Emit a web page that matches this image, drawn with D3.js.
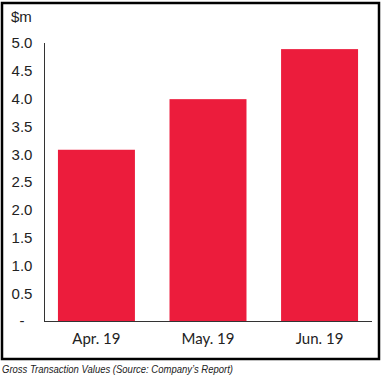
<!DOCTYPE html>
<html>
<head>
<meta charset="utf-8">
<script src="https://cdn.jsdelivr.net/npm/d3@7"></script>
<style>
  body { margin: 0; background: #fff; }
</style>
</head>
<body>
<script>
// Data
const months = ["Apr. 19", "May. 19", "Jun. 19"];
const gtv = [3.08, 3.99, 4.89];
const yTicks = [0, 0.5, 1.0, 1.5, 2.0, 2.5, 3.0, 3.5, 4.0, 4.5, 5.0];
const unitLabel = "$m";
const caption = "Gross Transaction Values (Source: Company\u2019s Report)";

const width = 385;
const height = 378;

const svg = d3.select("body")
    .append("svg")
    .attr("width", width)
    .attr("height", height);

// frame
svg.append("rect")
    .attr("x", 2)
    .attr("y", 3)
    .attr("width", 377)
    .attr("height", 356)
    .attr("fill", "none")
    .attr("stroke", "#000")
    .attr("stroke-width", 2.5);

const xScale = d3.scaleBand()
    .domain(months)
    .range([44, 372])
    .paddingInner(0.31)
    .paddingOuter(0.125);

const yScale = d3.scaleLinear()
    .domain([0, 5])
    .range([321, 43]);

// bars
svg.selectAll(".bar")
    .data(gtv)
    .enter()
    .append("rect")
    .attr("class", "bar")
    .attr("x", (d, i) => xScale(months[i]))
    .attr("y", d => yScale(d))
    .attr("width", xScale.bandwidth())
    .attr("height", d => yScale(0) - yScale(d))
    .attr("fill", "#ec1c3c");

// y axis line
svg.append("line")
    .attr("x1", 44.5).attr("x2", 44.5)
    .attr("y1", yScale(5)).attr("y2", yScale(0))
    .attr("stroke", "#333").attr("stroke-width", 1);

// x axis line
svg.append("line")
    .attr("x1", 44).attr("x2", 372)
    .attr("y1", yScale(0) + 0.5).attr("y2", yScale(0) + 0.5)
    .attr("stroke", "#333").attr("stroke-width", 1);

// y tick labels
svg.selectAll(".ytick")
    .data(yTicks)
    .enter()
    .append("text")
    .attr("class", "ytick")
    .attr("x", 22)
    .attr("y", d => yScale(d))
    .attr("dy", "0.36em")
    .attr("text-anchor", "middle")
    .attr("font-family", "Liberation Sans, Arial, sans-serif")
    .attr("font-size", 15)
    .attr("fill", "#222")
    .text(d => d === 0 ? "-" : d3.format(".1f")(d));

svg.append("text")
    .attr("x", 11)
    .attr("y", 17)
    .attr("dy", "0.36em")
    .attr("font-family", "Liberation Sans, Arial, sans-serif")
    .attr("font-size", 15)
    .attr("fill", "#222")
    .text(unitLabel);

// x labels
svg.selectAll(".xlabel")
    .data(months)
    .enter()
    .append("text")
    .attr("class", "xlabel")
    .attr("x", d => xScale(d) + xScale.bandwidth() / 2)
    .attr("y", 339)
    .attr("dy", "0.36em")
    .attr("text-anchor", "middle")
    .attr("font-family", "Lato, sans-serif")
    .attr("font-size", 15)
    .attr("fill", "#222")
    .text(d => d);

// caption
svg.append("text")
    .attr("x", 2)
    .attr("y", 369)
    .attr("dy", "0.36em")
    .attr("font-family", "Liberation Sans, Arial, sans-serif")
    .attr("font-style", "italic")
    .attr("font-size", 10.5)
    .attr("fill", "#222")
    .attr("textLength", 231)
    .attr("lengthAdjust", "spacingAndGlyphs")
    .text(caption);
</script>
</body>
</html>
